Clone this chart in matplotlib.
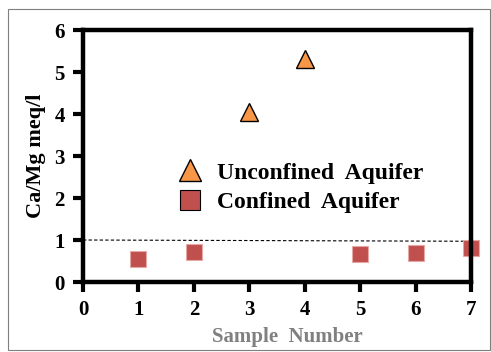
import matplotlib.pyplot as plt
from matplotlib.patches import Rectangle

# data
unconf_x = [3, 4]
unconf_y = [4.05, 5.3]
conf_x = [1, 2, 5, 6, 7]
conf_y = [0.55, 0.71, 0.66, 0.69, 0.81]
ref_x = [0, 7]
ref_y = [1.0, 0.97]

plt.rcParams['font.family'] = ['Liberation Serif', 'DejaVu Serif']
plt.rcParams['font.weight'] = 'bold'

fig = plt.figure(figsize=(4.91, 3.52), dpi=100)
ax = fig.add_axes([83 / 491, 1 - 282 / 352, (471 - 83) / 491, (282 - 30) / 352])

# outer frame
fig.patches.append(Rectangle((8 / 491, 2 / 352), 482 / 491, 341 / 352, transform=fig.transFigure,
                             fill=False, edgecolor='#7f7f7f', linewidth=0.8))

ax.plot(ref_x, ref_y, color='black', linestyle='--', linewidth=0.8, dashes=(3, 2))
ax.plot(unconf_x, unconf_y, linestyle='none', marker='^', markersize=13,
        markerfacecolor='#F79646', markeredgecolor='black', markeredgewidth=1.0,
        label='Unconfined  Aquifer', clip_on=False)
ax.plot(conf_x, conf_y, linestyle='none', marker='s', markersize=12,
        markerfacecolor='#C0504D', markeredgecolor='#E6A8A6', markeredgewidth=0.8,
        label='Confined  Aquifer', clip_on=False)

ax.set_xlim(0, 7)
ax.set_ylim(0, 6)
ax.set_xticks(range(8))
ax.set_yticks(range(7))
for s in ax.spines.values():
    s.set_linewidth(3.2)
ax.tick_params(direction='out', length=7, width=3, labelsize=15, pad=6)
for lab in ax.get_xticklabels() + ax.get_yticklabels():
    lab.set_fontweight('bold')

ax.set_ylabel('Ca/Mg meq/l', fontsize=16, fontweight='bold', labelpad=6)
ax.set_xlabel('Sample  Number', fontsize=15, fontweight='bold', color='#808080', va='center')
ax.xaxis.set_label_coords(0.526, -0.218)

leg = ax.legend(loc='center left', bbox_to_anchor=(0.237, 0.375), frameon=False,
                prop={'size': 17, 'weight': 'bold'}, handletextpad=0.5, labelspacing=0.32,
                handlelength=1.3, markerscale=1.2, borderpad=0, borderaxespad=0)
leg.legend_handles[1].set_markeredgecolor('black')

fig.savefig('out.png', dpi=100)
